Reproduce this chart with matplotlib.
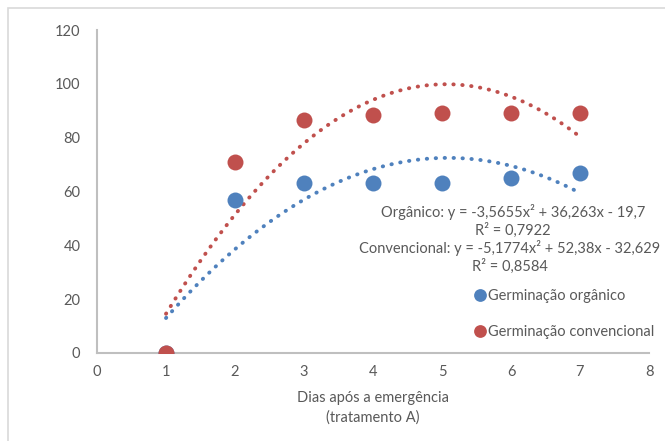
import numpy as np
import matplotlib
matplotlib.use("Agg")
import matplotlib.pyplot as plt
from matplotlib.patches import Rectangle

plt.rcParams['font.family'] = ['Lato', 'DejaVu Sans']

dias = [1, 2, 3, 4, 5, 6, 7]
organico = [0, 56.7, 63.3, 63.3, 63.3, 65.0, 66.7]
convencional = [0, 70.8, 86.7, 88.3, 89.2, 89.2, 89.2]
coef_org = [-3.5655, 36.263, -19.7]
coef_conv = [-5.1774, 52.38, -32.629]
xticks = [0, 1, 2, 3, 4, 5, 6, 7, 8]
yticks = [0, 20, 40, 60, 80, 100, 120]

blue = '#4F81BD'
red = '#C0504D'
txt = '#595959'
axc = '#BFBFBF'

fig = plt.figure(figsize=(6.65, 4.41), dpi=100)
fig.patches.append(Rectangle((8/665, -0.1), 1.2, 1 - 8/441 + 0.1, transform=fig.transFigure,
                             fill=False, edgecolor='#D9D9D9', linewidth=1.2))
ax = fig.add_axes([97/665, 1 - 353/441, (649 - 97)/665, (353 - 30)/441])

xs = np.linspace(dias[0], dias[-1], 200)
ax.plot(xs, np.polyval(coef_org, xs), color=blue, linestyle=(0, (0.1, 2.2)),
        linewidth=2.8, dash_capstyle='round', zorder=2)
ax.plot(xs, np.polyval(coef_conv, xs), color=red, linestyle=(0, (0.1, 2.2)),
        linewidth=2.8, dash_capstyle='round', zorder=2)

ax.plot(dias, organico, 'o', color=blue, markersize=11.5, markeredgewidth=0, zorder=3,
        label='Germinação orgânico')
ax.plot(dias, convencional, 'o', color=red, markersize=11.5, markeredgewidth=0, zorder=4,
        label='Germinação convencional')

ax.set_xlim(0, 8)
ax.set_ylim(0, 120)
ax.set_xticks(xticks)
ax.set_yticks(yticks)
for s in ['top', 'right']:
    ax.spines[s].set_visible(False)
for s in ['left', 'bottom']:
    ax.spines[s].set_color(axc)
    ax.spines[s].set_linewidth(1.5)
ax.tick_params(length=0, labelsize=10.5, labelcolor=txt)
ax.tick_params(axis='y', pad=12)
ax.tick_params(axis='x', pad=9)
ax.set_xlabel('Dias após a emergência\n(tratamento A)', fontsize=10.5, color=txt,
              linespacing=1.5, labelpad=8)
for l in ax.get_xticklabels() + ax.get_yticklabels():
    l.set_clip_on(False)
ax.patch.set_alpha(0)

eq_fs = 10.5
fig.text(513/665, 1 - 212/441, 'Orgânico: y = -3,5655x² + 36,263x - 19,7',
         ha='center', va='center', fontsize=eq_fs, color=txt)
fig.text(513/665, 1 - 230/441, 'R² = 0,7922', ha='center', va='center',
         fontsize=eq_fs, color=txt)
fig.text(510/665, 1 - 248/441, 'Convencional: y = -5,1774x² + 52,38x - 32,629',
         ha='center', va='center', fontsize=eq_fs, color=txt)
fig.text(510/665, 1 - 266/441, 'R² = 0,8584', ha='center', va='center',
         fontsize=eq_fs, color=txt)

leg = ax.legend(loc='upper left', bbox_to_anchor=(468/665, 1 - 282/441),
                bbox_transform=fig.transFigure, frameon=False, fontsize=10.5,
                handlelength=0.6, handletextpad=0.3, labelspacing=1.5,
                markerscale=0.8, borderpad=0)
for t in leg.get_texts():
    t.set_color(txt)

fig.savefig('out.png', dpi=100)
